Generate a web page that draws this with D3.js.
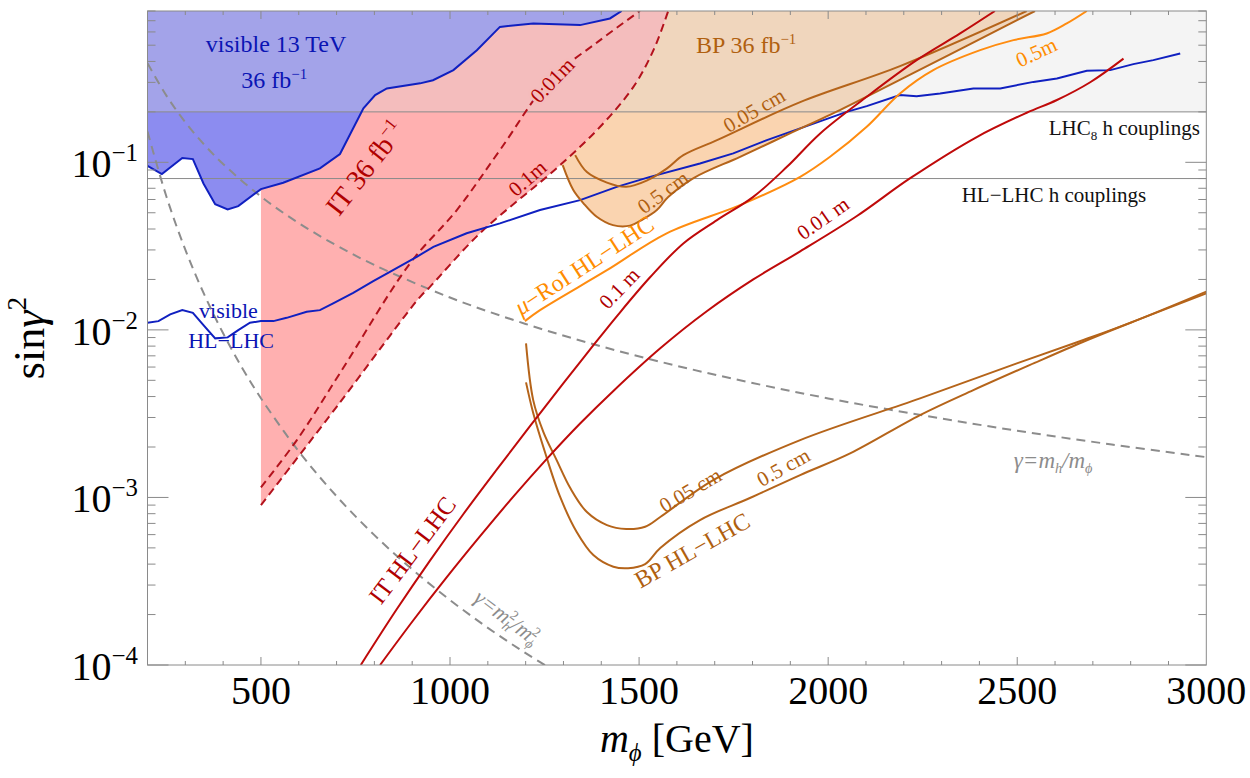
<!DOCTYPE html>
<html>
<head>
<meta charset="utf-8">
<script src="https://cdnjs.cloudflare.com/ajax/libs/d3/7.8.5/d3.min.js"></script>
<style>
body { margin: 0; background: #fff; }
svg text { font-family: "Liberation Serif", "Times New Roman", serif; }
</style>
</head>
<body>
<script>
(function(){

//curves: [m_phi in GeV, sin(gamma)^2]
var visible13 = [[200,0.0953],[238,0.0851],[292,0.106],[320,0.1045],[348,0.0748],[379,0.0563],[412,0.0524],[440,0.0548],[500,0.0692],[559,0.0755],[656,0.092],[709,0.112],[771,0.21],[802,0.252],[833,0.276],[921,0.296],[955,0.309],[1009,0.355],[1071,0.467],[1132,0.643],[1220,0.674],[1344,0.659],[1423,0.722],[1454,0.8]];
var visibleHL = [[200,0.01103],[229,0.01128],[260,0.01237],[292,0.01312],[320,0.01265],[348,0.01068],[379,0.0089],[412,0.00902],[440,0.00997],[471,0.01103],[500,0.01128],[533,0.01128],[568,0.0118],[621,0.01283],[656,0.01312],[691,0.01439],[744,0.01665],[797,0.01955],[841,0.0222],[912,0.0273],[956,0.0313],[1044,0.0377],[1132,0.0432],[1238,0.0519],[1344,0.0595],[1441,0.0714],[1529,0.0819],[1661,0.0985],[1749,0.113],[1838,0.1357],[1926,0.1594],[2049,0.2001],[2102,0.2164],[2190,0.2518],[2234,0.2483],[2296,0.2577],[2384,0.276],[2455,0.276],[2543,0.302],[2605,0.3168],[2684,0.3516],[2746,0.355],[2807,0.3855],[2860,0.4073],[2931,0.4466]];
var it36Inner = [[500,0.00115],[595,0.0022],[709,0.00552],[894,0.0249],[1018,0.0519],[1132,0.1183],[1264,0.309],[1397,0.536],[1502,0.8]];
var it36Outer = [[500,0.0009],[709,0.00369],[921,0.01576],[947,0.01807],[1079,0.0377],[1286,0.094],[1397,0.163],[1485,0.282],[1538,0.467],[1577,0.8]];
var bp36Inner = [[1331,0.1104],[1362,0.0874],[1415,0.0757],[1466,0.0714],[1520,0.0778],[1573,0.0917],[1617,0.1104],[1706,0.1357],[1926,0.2287],[2190,0.375],[2525,0.8]];
var bp36Outer = [[1298,0.0962],[1326,0.0683],[1353,0.0569],[1388,0.0473],[1431,0.0422],[1476,0.0419],[1511,0.0458],[1547,0.0519],[1577,0.062],[1644,0.0805],[1767,0.1079],[1899,0.1487],[2031,0.205],[2119,0.2577],[2547,0.8]];
var itHL1m = [[764,0.0001],[859,0.000215],[947,0.00042],[1035,0.000794],[1124,0.00147],[1212,0.00267],[1300,0.00481],[1370,0.00762],[1441,0.01205],[1529,0.0206],[1617,0.0328],[1706,0.0452],[1802,0.0622],[1891,0.094],[1979,0.1487],[2102,0.246],[2234,0.407],[2349,0.5875],[2441,0.8]];
var itHL01m = [[815,0.0001],[903,0.000185],[991,0.000333],[1079,0.000585],[1168,0.001014],[1256,0.001698],[1344,0.00276],[1432,0.00432],[1556,0.00776],[1679,0.01291],[1802,0.02],[1926,0.0294],[2076,0.0478],[2217,0.0804],[2393,0.1416],[2525,0.1977],[2605,0.2355],[2693,0.3006],[2781,0.4159]];
var muRoI = [[1198,0.01128],[1238,0.01312],[1415,0.0227],[1573,0.0377],[1767,0.0555],[1926,0.0819],[2005,0.1079],[2102,0.163],[2190,0.2577],[2278,0.355],[2402,0.467],[2490,0.536],[2578,0.5875],[2631,0.674],[2684,0.8]];
var bpHLInner = [[1201,0.0083],[1220,0.00381],[1247,0.002456],[1282,0.00167],[1318,0.001138],[1362,0.000818],[1415,0.000684],[1466,0.000648],[1516,0.000669],[1556,0.000764],[1696,0.00127],[1926,0.0022],[2243,0.0039],[2499,0.00631],[2675,0.0087],[2807,0.0112],[3000,0.0169]];
var bpHLOuter = [[1201,0.00486],[1220,0.00319],[1251,0.001866],[1291,0.00101],[1335,0.000622],[1379,0.000453],[1432,0.000386],[1471,0.000378],[1516,0.0004],[1556,0.000499],[1661,0.000733],[1793,0.000992],[1926,0.00136],[2058,0.00183],[2243,0.0031],[2384,0.00437],[2543,0.00631],[2675,0.0085],[2807,0.0112],[3000,0.0165]];
var gammaLin = [[200,0.3906],[250,0.25],[300,0.1736],[350,0.1276],[400,0.0977],[500,0.0625],[600,0.0434],[700,0.0319],[800,0.0244],[1000,0.0156],[1200,0.01085],[1400,0.00797],[1600,0.0061],[1800,0.00482],[2000,0.0039],[2250,0.00309],[2500,0.0025],[2750,0.00207],[3000,0.00174]];
var gammaSq = [[200,0.1526],[250,0.0625],[300,0.0301],[350,0.01627],[400,0.00954],[450,0.00595],[500,0.00391],[600,0.001884],[700,0.001017],[800,0.000596],[900,0.000372],[1000,0.000244],[1100,0.0001667],[1200,0.0001177],[1300,0.0000855]];
var couplingLHC8 = 0.2, couplingHL = 0.08;

//axis ticks
var xMajor = [500, 1000, 1500, 2000, 2500, 3000];
var yMajor = [1e-4, 1e-3, 1e-2, 1e-1];
var yExponents = ["−4", "−3", "−2", "−1"];

//frame
var width = 1250, height = 778;
var plotLeft = 147.5, plotRight = 1206.3, plotTop = 11, plotBottom = 665;

var svg = d3.select("body").append("svg")
    .attr("width", width)
    .attr("height", height);

var x = d3.scaleLinear().domain([200, 3000]).range([plotLeft, plotRight]);
var y = d3.scaleLog().domain([1e-4, 0.8]).range([plotBottom, plotTop]);

var smooth = d3.line()
    .x(function(d){ return x(d[0]); })
    .y(function(d){ return y(d[1]); })
    .curve(d3.curveCatmullRom.alpha(0.5));
var straight = d3.line()
    .x(function(d){ return x(d[0]); })
    .y(function(d){ return y(d[1]); });

svg.append("defs").append("clipPath").attr("id", "plotClip")
    .append("rect")
    .attr("x", plotLeft).attr("y", plotTop)
    .attr("width", plotRight - plotLeft).attr("height", plotBottom - plotTop);

var plot = svg.append("g").attr("clip-path", "url(#plotClip)");

//BP 36 fb-1 region: bounded by the IT dashed edge and the 0.5 cm contour
var bpEdge = it36Outer.filter(function(d){ return d[0] >= 1286; });
var bpPath = smooth(bpEdge) + "L" + x(bp36Outer[bp36Outer.length-1][0]) + "," + y(0.8) +
    "L" + smooth(bp36Outer.slice().reverse()).slice(1) + "Z";
plot.append("path").attr("d", bpPath).attr("fill", "#fad4b0");

//IT 36 fb-1 region
var itPath = "M" + x(500) + "," + y(0.8) + "L" + smooth(it36Outer).slice(1) +
    "L" + x(500) + "," + y(0.8) + "Z";
plot.append("path").attr("d", itPath).attr("fill", "#ffb0b0");

//visible 13 TeV region
var visPath = straight(visible13) + "L" + x(200) + "," + y(0.8) + "Z";
plot.append("path").attr("d", visPath).attr("fill", "#8c8cf0");

//excluded by LHC8 couplings (light veil)
plot.append("rect")
    .attr("x", plotLeft).attr("y", y(0.8))
    .attr("width", plotRight - plotLeft)
    .attr("height", y(couplingLHC8) - y(0.8))
    .attr("fill", "#dcdcdc").attr("fill-opacity", 0.3);

//coupling lines
[couplingLHC8, couplingHL].forEach(function(v){
    plot.append("line")
        .attr("x1", plotLeft).attr("x2", plotRight)
        .attr("y1", y(v)).attr("y2", y(v))
        .attr("stroke", "#8a8a8a").attr("stroke-width", 1);
});

//curves
function curve(data, color, dash, gen){
    plot.append("path")
        .attr("d", (gen || smooth)(data))
        .attr("fill", "none")
        .attr("stroke", color)
        .attr("stroke-width", 2)
        .attr("stroke-dasharray", dash || null);
}
curve(gammaLin, "#8c8c8c", "9,6");
curve(gammaSq, "#8c8c8c", "9,6");
curve(it36Inner, "#b3121c", "8,5");
curve(it36Outer, "#b3121c", "8,5");
curve(visible13, "#1020c0", null, straight);
curve(visibleHL, "#1020c0", null, straight);
curve(bp36Inner, "#b5641a");
curve(bp36Outer, "#b5641a");
curve(bpHLInner, "#b5641a");
curve(bpHLOuter, "#b5641a");
curve(muRoI, "#ff8c10");
curve(itHL1m, "#bf0a0a");
curve(itHL01m, "#bf0a0a");

//frame and ticks
var axis = svg.append("g").attr("stroke", "#8a8a8a").attr("stroke-width", 1);
axis.append("rect")
    .attr("x", plotLeft).attr("y", plotTop)
    .attr("width", plotRight - plotLeft).attr("height", plotBottom - plotTop)
    .attr("fill", "none");

d3.range(300, 3000, 100).forEach(function(m){
    var major = xMajor.indexOf(m) >= 0;
    var len = major ? 8 : 4;
    axis.append("line").attr("x1", x(m)).attr("x2", x(m))
        .attr("y1", plotBottom).attr("y2", plotBottom - len);
    axis.append("line").attr("x1", x(m)).attr("x2", x(m))
        .attr("y1", plotTop).attr("y2", plotTop + len);
});

var yTicks = [];
[1e-4, 1e-3, 1e-2, 1e-1].forEach(function(dec){
    d3.range(1, 10).forEach(function(k){
        var v = k * dec;
        if (v <= 0.8) yTicks.push([v, k === 1]);
    });
});
yTicks.forEach(function(t){
    var len = t[1] ? 21 : 8;
    axis.append("line").attr("x1", plotLeft).attr("x2", plotLeft + len)
        .attr("y1", y(t[0])).attr("y2", y(t[0]));
    axis.append("line").attr("x1", plotRight).attr("x2", plotRight - len)
        .attr("y1", y(t[0])).attr("y2", y(t[0]));
});

//rich text helper: parts are [text, kind, dx] with kind "", "i", "sup", "sub", "isub"
function rich(t, parts, size){
    var shift = 0;
    parts.forEach(function(p){
        var kind = p[1] || "";
        var span = t.append("tspan").text(p[0]);
        var target = kind.indexOf("sup") >= 0 ? -0.4 * size : (kind.indexOf("sub") >= 0 ? 0.22 * size : 0);
        if (target !== shift){ span.attr("dy", target - shift); shift = target; }
        if (target !== 0) span.attr("font-size", 0.62 * size);
        if (p[2]) span.attr("dx", p[2]);
        if (kind.charAt(0) === "i") span.attr("font-style", "italic");
    });
}

function label(mx, sy, angle, size, color, parts, anchor, halo){
    var t = svg.append("text")
        .attr("transform", "translate(" + x(mx) + "," + y(sy) + ") rotate(" + angle + ")")
        .attr("text-anchor", anchor || "middle")
        .attr("dy", angle === 0 ? 0 : "0.35em")
        .attr("font-size", size)
        .attr("fill", color);
    if (halo){
        t.attr("stroke", halo).attr("stroke-width", 5)
            .attr("paint-order", "stroke").attr("stroke-linejoin", "round");
    }
    rich(t, parts, size);
}

//tick labels
xMajor.forEach(function(m){
    svg.append("text")
        .attr("x", x(m)).attr("y", plotBottom + 39)
        .attr("text-anchor", "middle")
        .attr("font-size", 40)
        .text(m);
});
yMajor.forEach(function(v, i){
    var t = svg.append("text")
        .attr("x", 138).attr("y", y(v) + 15)
        .attr("text-anchor", "end")
        .attr("font-size", 40);
    rich(t, [["10"], [yExponents[i], "sup"]], 40);
});

//axis titles
var xt = svg.append("text")
    .attr("x", (plotLeft + plotRight) / 2).attr("y", 752)
    .attr("text-anchor", "middle").attr("font-size", 40);
rich(xt, [["m", "i"], ["ϕ", "isub"], [" [GeV]"]], 40);
var yt = svg.append("text")
    .attr("transform", "translate(44," + ((plotTop + plotBottom) / 2) + ") rotate(-90)")
    .attr("text-anchor", "middle").attr("font-size", 44);
rich(yt, [["sin"], ["γ", "i"], ["2", "sup"]], 44);

//annotations
var blue = "#0a14b4", red = "#b00000", brown = "#b0600f", orange = "#ff8c00", grey = "#8c8c8c";
label(540, 0.457, 0, 24, blue, [["visible 13 TeV"]]);
label(535, 0.2765, 0, 24, blue, [["36 fb"], ["−1", "sup"]]);
label(1783, 0.4473, 0, 24, brown, [["BP 36 fb"], ["−1", "sup"]]);
label(2983, 0.1455, 0, 21, "#111", [["LHC"], ["8", "sub"], [" h couplings"]], "end");
label(2597, 0.0582, 0, 21, "#111", [["HL−LHC h couplings"]]);
label(414, 0.01182, 0, 22, blue, [["visible"]]);
label(421, 0.00783, 0, 22, blue, [["HL−LHC"]]);
label(2595, 0.0015, 0, 23, grey, [["γ=m", "i"], ["h", "isub"], ["/m", "i"], ["ϕ", "isub"]]);
label(775, 0.0925, -52, 28, red, [["IT 36 fb"], ["−1", "sup"]]);
label(1270, 0.31, -46, 21, red, [["0.01m"]], null, "#f4bcbc");
label(1204, 0.0806, -41, 21, red, [["0.1m"]]);
label(1804, 0.2052, -30, 21, brown, [["0.05 cm"]]);
label(1563, 0.0665, -36, 21, brown, [["0.5 cm"]]);
label(1354, 0.02437, -33, 24, orange, [["μ", "i"], ["−RoI HL−LHC"]]);
label(1447, 0.01778, -46, 21, red, [["0.1 m"]]);
label(1986, 0.0465, -35, 21, red, [["0.01 m"]]);
label(2550, 0.4553, -25, 21, orange, [["0.5m"]]);
label(900, 0.000486, -53, 25, red, [["IT HL−LHC"]]);
label(1640, 0.000486, -29.5, 24, brown, [["BP  HL−LHC"]]);
label(1635, 0.001108, -30, 21, brown, [["0.05 cm"]]);
label(1881, 0.00152, -29, 21, brown, [["0.5 cm"]]);
label(1151, 0.0001935, 37, 22, grey, [["γ=m", "i"], ["h", "isub"], ["2", "sup", -7], ["/m", "i"], ["ϕ", "isub"], ["2", "sup", -8]]);

})();
</script>
</body>
</html>
